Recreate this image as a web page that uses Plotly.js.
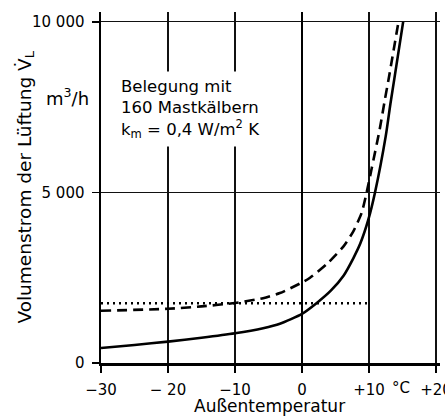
<!DOCTYPE html>
<html>
<head>
<meta charset="utf-8">
<script src="https://cdn.plot.ly/plotly-3.0.1.min.js"></script>
<style>html,body{margin:0;padding:0;background:#fff;overflow:hidden;}#chart{width:445px;height:417px;}</style>
</head>
<body>
<div id="chart"></div>
<script>
// Außentemperatur (°C) and Volumenstrom (m³/h)
const solidTemp = [-30, -25, -20, -15, -10, -5.8, -3.3, 0, 2.3, 4.3, 6.2, 7.66, 8.7, 9.9, 10.9, 12.5, 13.2, 13.8, 15.1];
const solidFlow = [440, 530, 627, 740, 870, 1020, 1150, 1440, 1775, 2120, 2560, 3070, 3500, 4200, 5000, 6650, 7600, 8350, 10000];

const dashTemp = [-30, -20, -15, -10, -5.8, -3.3, 0, 1.2, 3.7, 6.2, 7.66, 8.9, 9.65, 10.4, 11.6, 12.4, 13.0, 14.4];
const dashFlow = [1530, 1590, 1660, 1760, 1900, 2050, 2360, 2500, 2900, 3420, 3860, 4400, 5000, 5700, 6850, 7750, 8400, 10000];

const dotTemp = [-30, 10];
const dotFlow = [1750, 1750];

const xTickVals = [-30, -20, -10, 0, 10, 20];
const xTickText = ["−30", "− 20", "−10", "0", "+10", "+20"];
const yTickVals = [0, 5000, 10000];
const yTickText = ["0", "5 000", "10 000"];

const FONT = "DejaVu Sans, Liberation Sans, sans-serif";

const traces = [
  {x: solidTemp, y: solidFlow, mode: "lines", line: {color: "#000", width: 2.6, shape: "spline", smoothing: 0.6}, hoverinfo: "skip"},
  {x: dashTemp, y: dashFlow, mode: "lines", line: {color: "#000", width: 2.6, dash: "10px,6px", shape: "spline", smoothing: 0.6}, hoverinfo: "skip"},
  {x: dotTemp, y: dotFlow, mode: "lines", line: {color: "#000", width: 2.4, dash: "2px,4px"}, hoverinfo: "skip"}
];

const layout = {
  width: 445, height: 417,
  margin: {l: 101, r: 5, t: 12, b: 54},
  paper_bgcolor: "#fff", plot_bgcolor: "#fff",
  showlegend: false,
  font: {family: FONT, color: "#000", size: 15},
  xaxis: {
    range: [-30, 20.6], tickvals: xTickVals, ticktext: xTickText,
    ticks: "outside", ticklen: 7, tickwidth: 1.5, tickcolor: "#000",
    ticklabelstandoff: 4, ticklabeloverflow: "allow",
    showline: true, linewidth: 2.5, linecolor: "#000",
    showgrid: true, gridcolor: "#111", gridwidth: 1.2,
    zeroline: true, zerolinecolor: "#000", zerolinewidth: 2.5,
    tickfont: {size: 15, family: FONT, color: "#000"},
    fixedrange: true
  },
  yaxis: {
    range: [0, 10290], tickvals: yTickVals, ticktext: yTickText,
    ticks: "outside", ticklen: 7, tickwidth: 1.5, tickcolor: "#000",
    ticklabelstandoff: 4,
    showline: true, linewidth: 2.5, linecolor: "#000",
    showgrid: true, gridcolor: "#111", gridwidth: 1.2,
    zeroline: false,
    tickfont: {size: 15, family: FONT, color: "#000"},
    fixedrange: true
  },
  annotations: [
    {xref: "x", yref: "y", x: -27.9, y: 8560, xanchor: "left", yanchor: "top",
     text: "Belegung mit<br>160 Mastkälbern<br>k<sub>m</sub> = 0,4 W/m<sup>2</sup> K",
     align: "left", showarrow: false, bgcolor: "#fff", borderpad: 5,
     font: {size: 16.5, family: FONT, color: "#000"}},
    {xref: "paper", yref: "paper", x: -0.224, y: 0.5, xanchor: "center", yanchor: "middle",
     textangle: -90, text: "Volumenstrom der Lüftung V̇<sub>L</sub>", showarrow: false,
     font: {size: 18.5, family: FONT, color: "#000"}},
    {xref: "paper", yref: "paper", x: -0.1, y: 0.758, xanchor: "center", yanchor: "middle",
     text: "m<sup>3</sup>/h", showarrow: false,
     font: {size: 18, family: FONT, color: "#000"}},
    {xref: "x", yref: "paper", x: 14.8, y: -0.071, xanchor: "center", yanchor: "middle",
     text: "°C", showarrow: false,
     font: {size: 15, family: FONT, color: "#000"}},
    {xref: "paper", yref: "paper", x: 0.4985, y: -0.1225, xanchor: "center", yanchor: "middle",
     text: "Außentemperatur", showarrow: false,
     font: {size: 17, family: FONT, color: "#000"}}
  ]
};

Plotly.newPlot("chart", traces, layout, {displayModeBar: false, staticPlot: true});
</script>
</body>
</html>
